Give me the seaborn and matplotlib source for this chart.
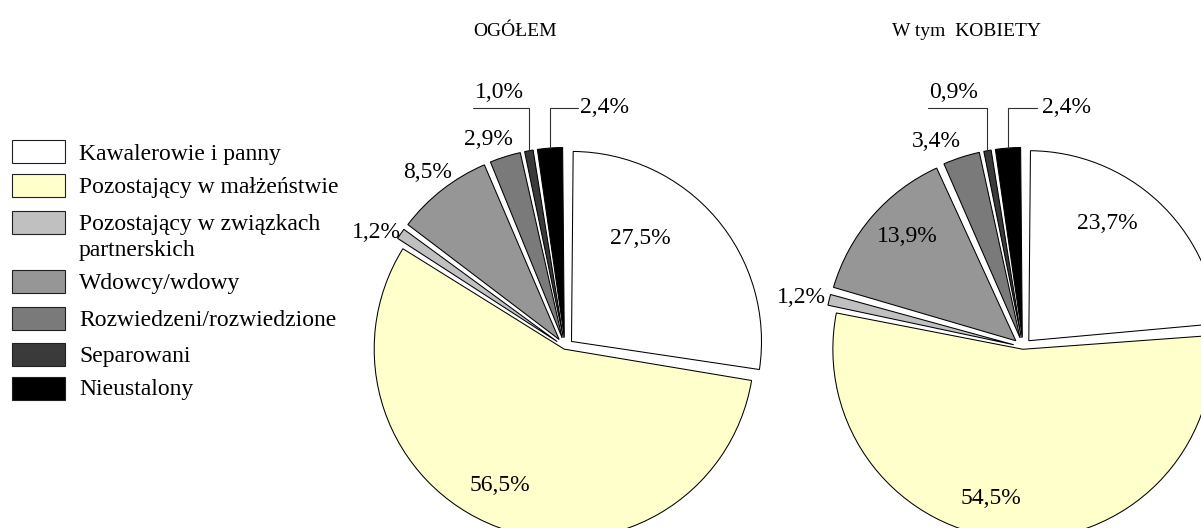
import matplotlib
matplotlib.use("Agg")
import matplotlib.pyplot as plt
import seaborn as sns
import numpy as np
from matplotlib.patches import Rectangle

# ---------------- data ----------------
categories = [
    "Kawalerowie i panny",
    "Pozostający w małżeństwie",
    "Pozostający w związkach\npartnerskich",
    "Wdowcy/wdowy",
    "Rozwiedzeni/rozwiedzione",
    "Separowani",
    "Nieustalony",
]
ogolem = [27.5, 56.5, 1.2, 8.5, 2.9, 1.0, 2.4]
kobiety = [23.7, 54.5, 1.2, 13.9, 3.4, 0.9, 2.4]
titles = ["OGÓŁEM", "W tym  KOBIETY"]

# ---------------- style ----------------
colors = ["#FFFFFF", "#FFFFCC", "#C0C0C0", "#969696", "#7A7A7A", "#3A3A3A", "#000000"]

sns.set_theme(style="white")
plt.rcParams["font.family"] = ["Liberation Serif", "DejaVu Serif"]

W, H = 1201, 528
fig = plt.figure(figsize=(W / 100, H / 100), dpi=100)
fig.patch.set_facecolor("white")


def fx(px):
    return px / W


def fy(py):
    return 1 - py / H


R = 190          # pie radius in pixels
HALF = 1.2       # axes half-size in radius units
explode = [0.045, 0.012, 0.05, 0.05, 0.05, 0.05, 0.05]
GAP = 0.5        # angular gap (deg) trimmed from each wedge side
FS = 17


def fmt(v):
    return f"{v:.1f}".replace(".", ",") + "%"


layouts = [
    dict(values=ogolem, title=titles[0], center=(565, 347), title_xy=(515, 32),
         label_xy=[(0.395, 0.573), (-0.342, -0.727), (-0.995, 0.605), (-0.721, 0.921),
                   (-0.405, 1.094), (-0.347, 1.337), (0.079, 1.258)],
         sep_line=(-0.486, 1.259), nie_line=(0.068, 1.259)),
    dict(values=kobiety, title=titles[1], center=(1023, 347), title_xy=(966, 32),
         label_xy=[(0.442, 0.652), (-0.168, -0.795), (-1.168, 0.258), (-0.611, 0.579),
                   (-0.458, 1.079), (-0.368, 1.337), (0.10, 1.258)],
         sep_line=(-0.50, 1.259), nie_line=(0.074, 1.259)),
]

for lay in layouts:
    cx, cy = lay["center"]
    size = 2 * HALF * R
    ax = fig.add_axes([fx(cx - HALF * R), fy(cy + HALF * R), size / W, size / H])
    wedges, _ = ax.pie(
        lay["values"], colors=colors, startangle=90, counterclock=False,
        explode=explode, radius=1.0,
        wedgeprops=dict(edgecolor="black", linewidth=0.75),
    )
    for w in wedges:
        w.set_theta1(w.theta1 + GAP)
        w.set_theta2(w.theta2 - GAP)
    ax.set_xlim(-HALF, HALF)
    ax.set_ylim(-HALF, HALF)
    ax.set_aspect("equal")
    ax.axis("off")

    # value labels
    for i, (v, (lx, ly)) in enumerate(zip(lay["values"], lay["label_xy"])):
        ha = "left" if i == 6 else "center"
        ax.text(lx, ly, fmt(v), ha=ha, va="center", fontsize=FS, color="black",
                clip_on=False)

    # leader lines for the two small wedges at the top
    def anchor(w):
        mid = np.deg2rad((w.theta1 + w.theta2) / 2)
        return (w.center[0] + w.r * np.cos(mid), w.center[1] + w.r * np.sin(mid))

    a5 = anchor(wedges[5])
    sx, sy = lay["sep_line"]
    ax.plot([sx, a5[0], a5[0]], [sy, sy, a5[1]], color="#303030", lw=0.8,
            clip_on=False)
    a6 = anchor(wedges[6])
    nx, ny = lay["nie_line"]
    ax.plot([a6[0], a6[0], nx], [a6[1], ny, ny], color="#303030", lw=0.8,
            clip_on=False)

    fig.text(fx(lay["title_xy"][0]), fy(lay["title_xy"][1]), lay["title"],
             ha="center", va="center", fontsize=14, color="black")

# ---------------- legend (manual) ----------------
legend_rows = [152, 185.5, 222.3, 281.3, 318, 354.5, 388]
box_w, box_h = 53, 23
for cat, col, yc in zip(categories, colors, legend_rows):
    fig.add_artist(Rectangle((fx(12), fy(yc + box_h / 2)), box_w / W, box_h / H,
                             facecolor=col, edgecolor="#202020", linewidth=0.8,
                             transform=fig.transFigure))
    for k, line in enumerate(cat.split("\n")):
        fig.text(fx(79), fy(yc + 2 + k * 26), line, ha="left", va="center",
                 fontsize=FS, color="black")

fig.savefig("out.png", dpi=100, facecolor="white")
